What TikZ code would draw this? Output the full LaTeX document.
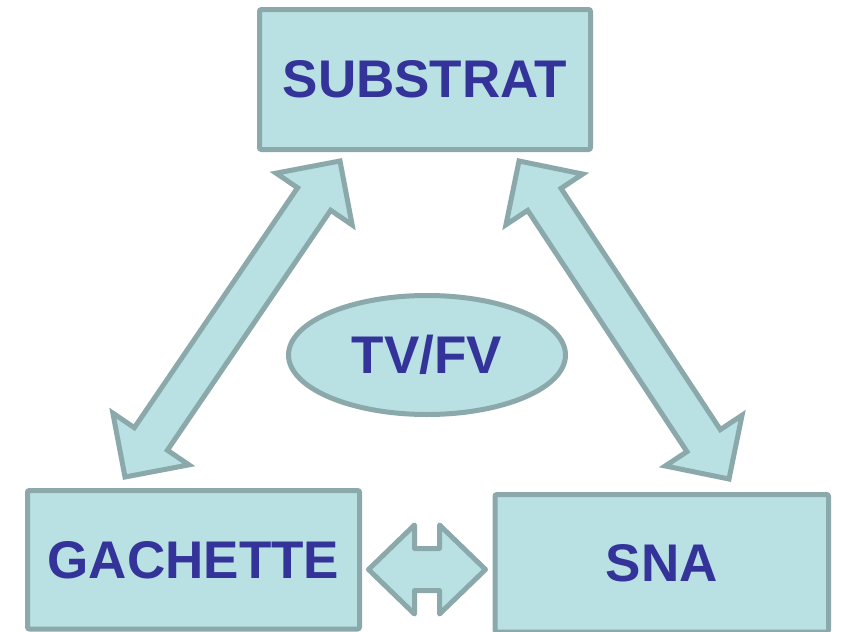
\documentclass[tikz,border=0pt]{standalone}
\usepackage{fontspec}
\setmainfont{Liberation Sans}
\usetikzlibrary{calc}
\definecolor{boxfill}{HTML}{B9E0E3}
\definecolor{boxline}{HTML}{8BA9AA}
\definecolor{labelblue}{HTML}{333399}
\tikzset{
  unitbox/.style={draw=boxline, fill=boxfill, line width=5pt, rounded corners=2pt,
    inner sep=0pt, text=labelblue, font=\fontsize{53}{60}\selectfont\bfseries},
  unitellipse/.style={draw=boxline, fill=boxfill, line width=5pt, ellipse, inner sep=0pt,
    text=labelblue, font=\fontsize{53}{60}\selectfont\bfseries},
  fatarrow/.style={draw=boxline, fill=boxfill, line width=5pt, line join=miter},
  fatarrowround/.style={fatarrow, line join=round}
}
\usetikzlibrary{shapes.geometric}
% #1 style, #2 tip A, #3 tip B, #4 head length, #5 head half width, #6 shaft half width
\newcommand{\fatdouble}[6]{%
  \draw[#1] (#2)
    -- ($(#2)!#4!(#3)!#5!90:(#3)$)
    -- ($(#2)!#4!(#3)!#6!90:(#3)$)
    -- ($(#3)!#4!(#2)!#6!-90:(#2)$)
    -- ($(#3)!#4!(#2)!#5!-90:(#2)$)
    -- (#3)
    -- ($(#3)!#4!(#2)!#5!90:(#2)$)
    -- ($(#3)!#4!(#2)!#6!90:(#2)$)
    -- ($(#2)!#4!(#3)!#6!-90:(#3)$)
    -- ($(#2)!#4!(#3)!#5!-90:(#3)$)
    -- cycle;}
\begin{document}
\begin{tikzpicture}[x=1pt, y=-1pt]
  \useasboundingbox (0,0) rectangle (844,632);
  \fill[white] (0,0) rectangle (844,632);

  \node[unitbox, minimum width=331pt, minimum height=140pt] (substrat) at (425,79.5) {SUBSTRAT};
  \node[unitbox, minimum width=332pt, minimum height=138.5pt] (gachette) at (193.5,559.75) {GACHETTE};
  \node[unitbox, minimum width=333.5pt, minimum height=137.5pt] (sna) at (661.75,563.25) {SNA};
  \node[unitellipse, minimum width=277pt, minimum height=119pt] (tvfv) at (427,355) {TV/FV};

  \coordinate (lt) at (340,161);
  \coordinate (lb) at (125,477);
  \coordinate (rt) at (519,161);
  \coordinate (rb) at (729,479);
  \coordinate (hl) at (368.5,569.5);
  \coordinate (hr) at (485.5,569.5);

  \fatdouble{fatarrow}{lt}{lb}{46pt}{46pt}{20pt}
  \fatdouble{fatarrow}{rt}{rb}{46pt}{46pt}{20pt}
  \fatdouble{fatarrowround}{hl}{hr}{46pt}{44.5pt}{21pt}
\end{tikzpicture}
\end{document}
